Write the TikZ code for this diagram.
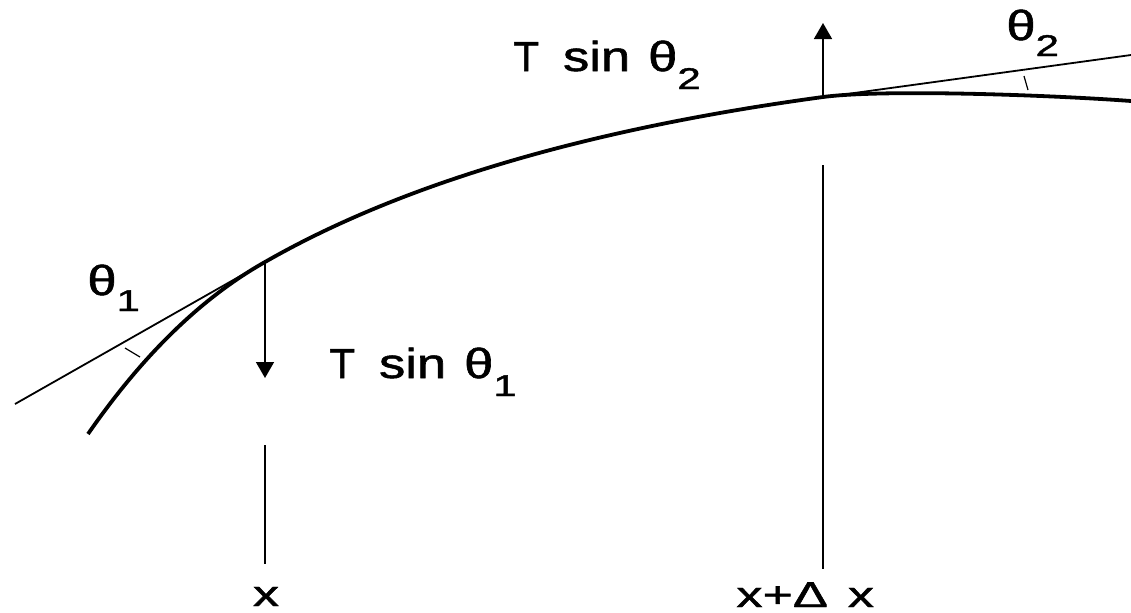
\documentclass[tikz,border=0pt]{standalone}
\usepackage{fontspec}
\setmainfont{Liberation Sans}
\newfontfamily\lblfont{Liberation Sans}[FakeBold=1.2]
\definecolor{inkc}{HTML}{000000}
\usetikzlibrary{arrows.meta,positioning}
\tikzset{
  >={Triangle[length=8pt,width=9pt]},
  string/.style={draw=inkc,line width=1.9pt},
  tang/.style={draw=inkc,line width=0.9pt},
  guide/.style={draw=inkc,line width=0.8pt},
  force/.style={->,draw=inkc,line width=0.8pt},
  angtick/.style={draw=inkc,line width=0.6pt},
  lbl/.style={font=\lblfont\fontsize{21}{24}\selectfont,text=inkc,inner sep=0pt},
  xlbl/.style={font=\lblfont\fontsize{18}{20}\selectfont,text=inkc,inner sep=0pt},
}
\newcommand{\wide}[1]{\scalebox{1.25}[1]{#1}}
\newcommand{\xwide}[1]{\scalebox{1.45}[1]{#1}}
\newcommand{\lowr}[2]{\raisebox{-#1}{\fontsize{15}{17}\selectfont\scalebox{1.4}[1]{#2}}}

\begin{document}
\begin{tikzpicture}[x=0.5pt,y=-0.5pt]
  \useasboundingbox (0,0) rectangle (1131,612);
  % points of tangency
  \coordinate (P1) at (265,262);
  \coordinate (P2) at (823,97);
  % the string
  \draw[string] (88,434) .. controls (142,356) and (201,298) .. (P1)
    .. controls (401,184) and (587,129) .. (P2)
    .. controls (883,89) and (1050,95) .. (1131,101);
  % tangents and angle ticks
  \coordinate (T1) at (15,404);
  \coordinate (T2a) at (745,108);
  \coordinate (T2b) at (1131,55);
  \draw[tang] (T1) -- (P1);
  \draw[tang] (T2a) -- (T2b);
  \draw[angtick] (125,348) -- (140,357);
  \draw[angtick] (1024,76) -- (1028,90);
  % vertical components
  \coordinate (F1) at (265,378);
  \coordinate (F2) at (823,23);
  \draw[force] (P1) -- (F1);
  \draw[force] (P2) -- (F2);
  % position markers
  \coordinate (G1a) at (265,445);
  \coordinate (G1b) at (265,564);
  \coordinate (G2a) at (823,165);
  \coordinate (G2b) at (823,569);
  \draw[guide] (G1a) -- (G1b);
  \draw[guide] (G2a) -- (G2b);
  % labels
  \node[lbl,anchor=base west] (ts1) at (329,378) {T\hspace{12pt}\wide{sin}\hspace{9pt}\wide{θ}\lowr{9pt}{1}};
  \node[lbl,anchor=base west] (ts2) at (513,71) {T\hspace{12pt}\wide{sin}\hspace{9pt}\wide{θ}\lowr{9pt}{2}};
  \node[lbl,anchor=base west] (th1) at (87,295) {\wide{θ}\lowr{8pt}{1}};
  \node[lbl,anchor=base west] (th2) at (1006,40) {\wide{θ}\lowr{8pt}{2}};
  \node[xlbl,anchor=base] (xa) at (266,606) {\xwide{x}};
  \node[xlbl,anchor=base west] (xb) at (736,607) {\xwide{x+Δ}\hspace{10pt}\xwide{x}};
\end{tikzpicture}
\end{document}
